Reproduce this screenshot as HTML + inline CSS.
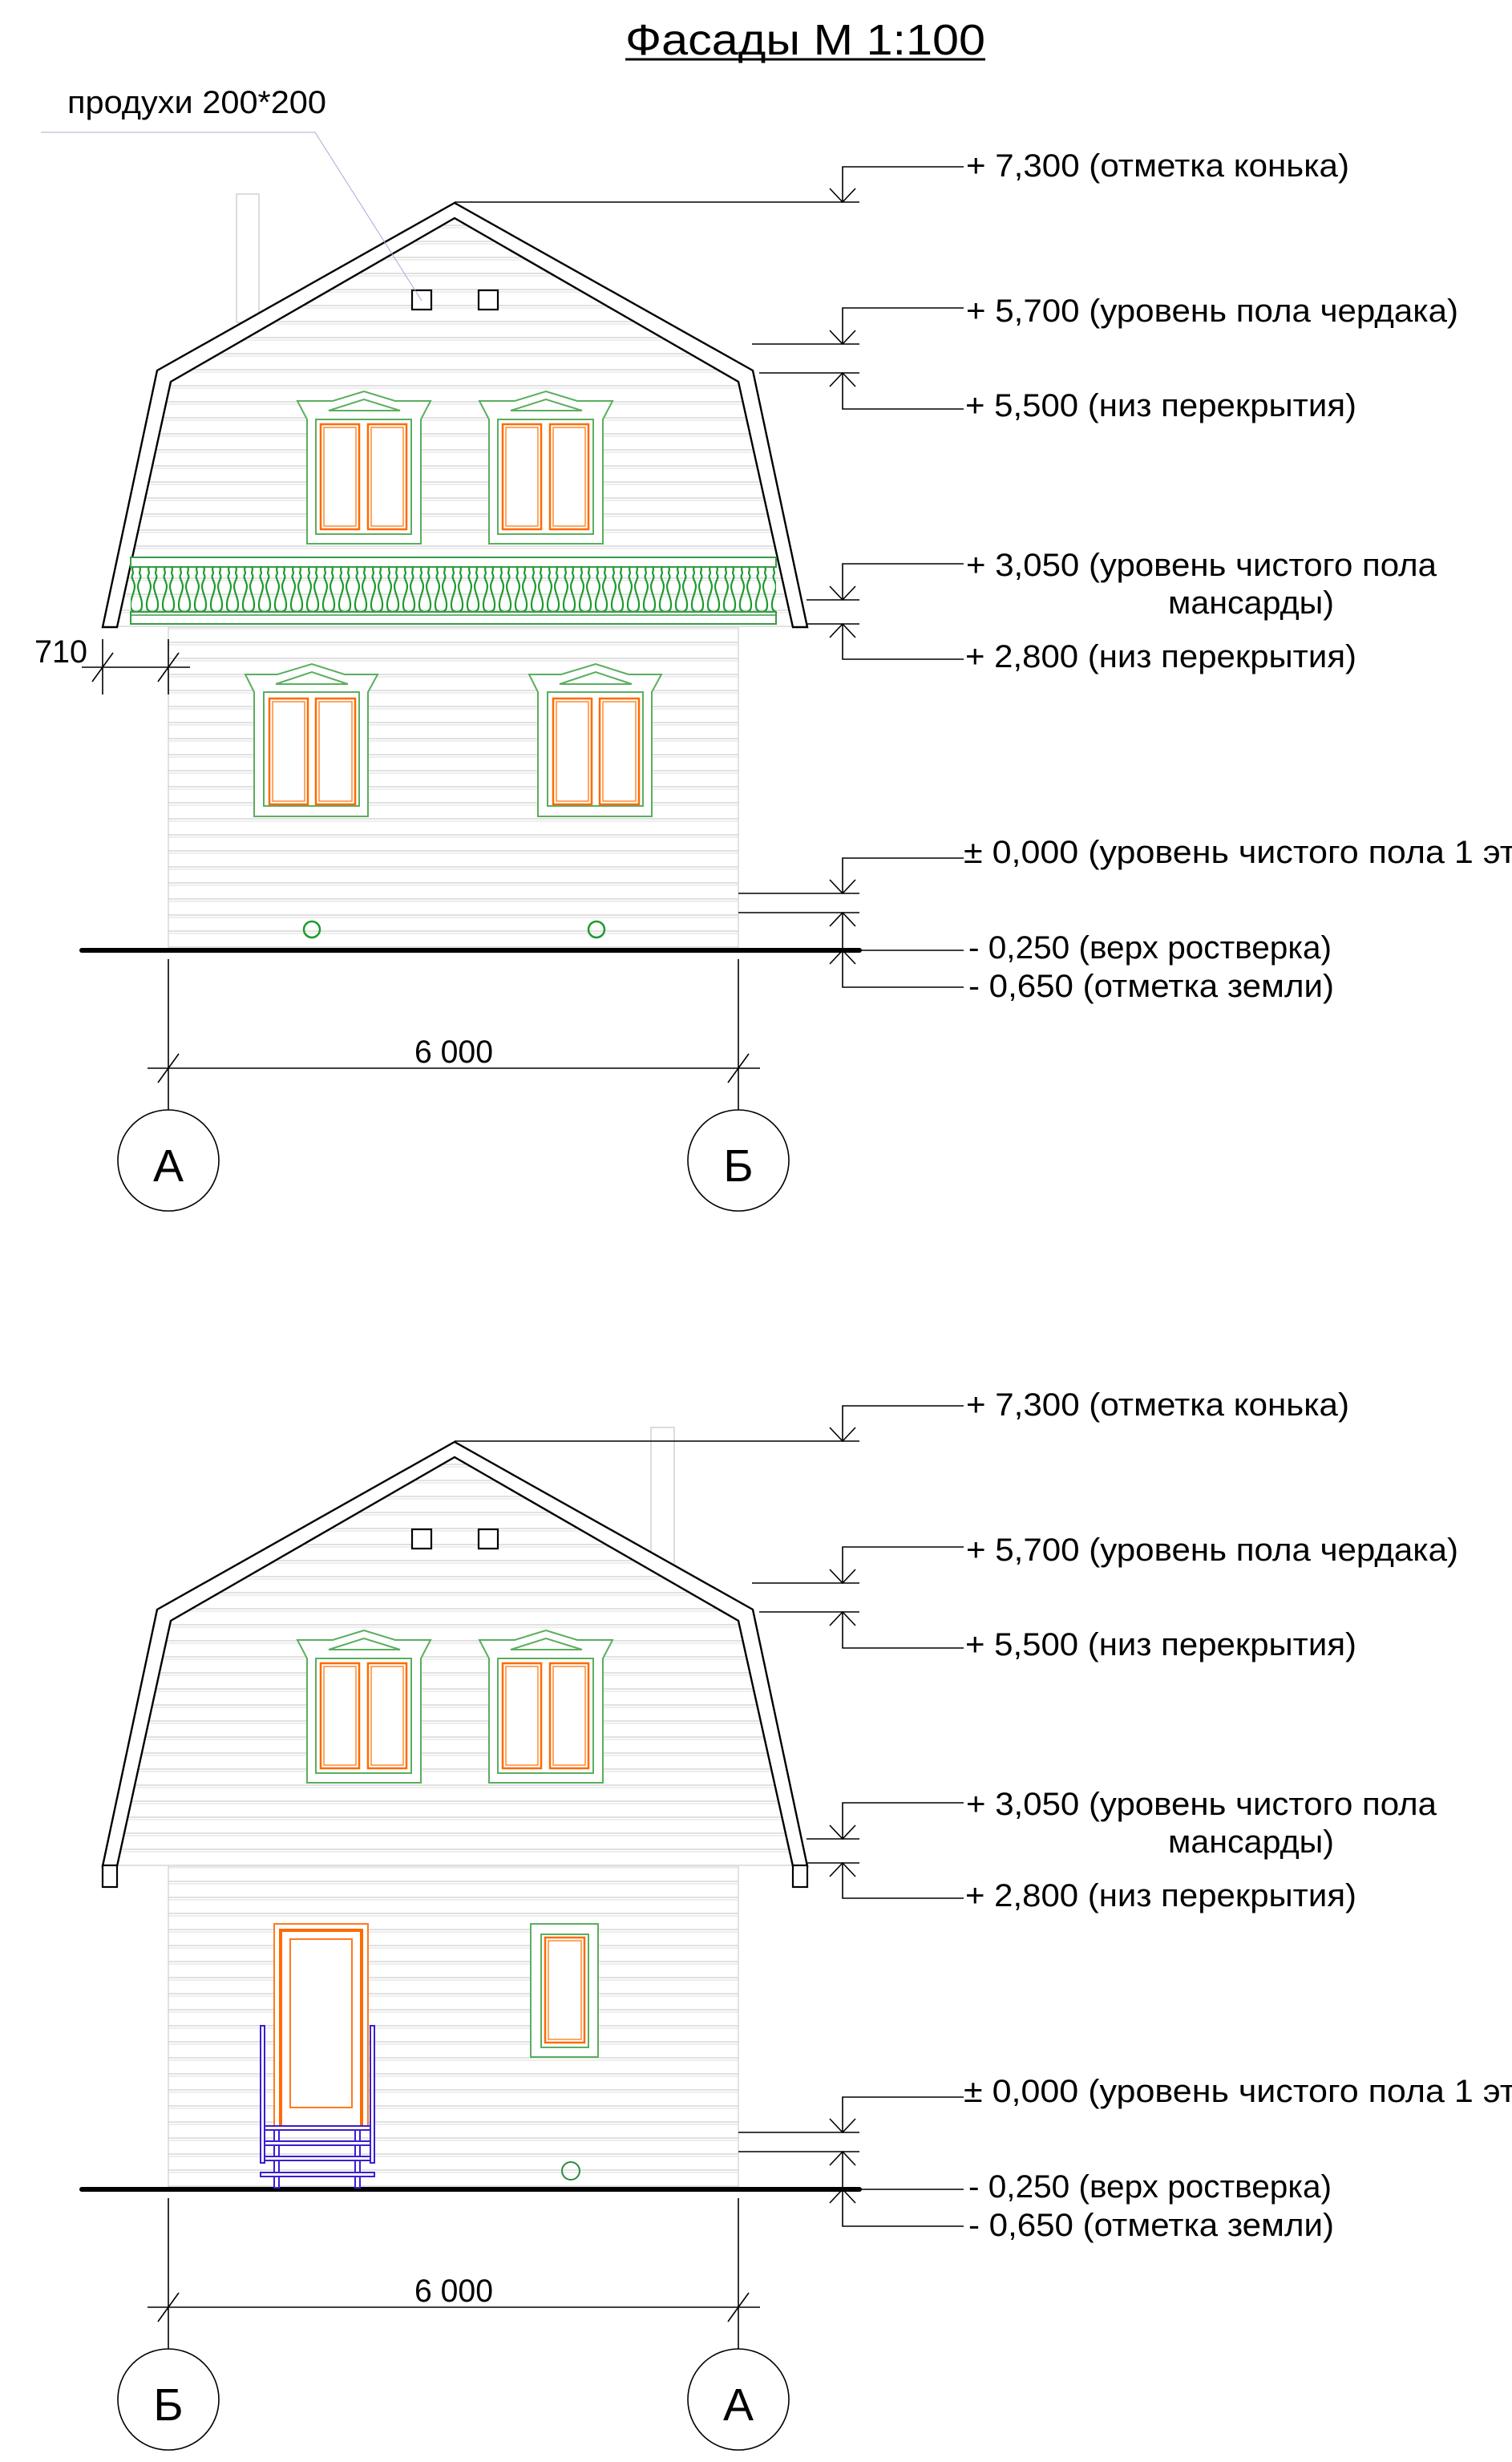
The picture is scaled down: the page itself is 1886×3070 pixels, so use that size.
<!DOCTYPE html>
<html><head><meta charset="utf-8"><style>
html,body{margin:0;padding:0;background:#fff}
svg{display:block}
text{font-family:"Liberation Sans","DejaVu Sans",sans-serif;fill:#000}
</style></head><body>
<svg width="1886" height="3070" viewBox="0 0 1886 3070" xmlns="http://www.w3.org/2000/svg">
<defs>
<pattern id="sid" patternUnits="userSpaceOnUse" width="40" height="20">
<rect width="40" height="20" fill="#fff"/>
<line x1="0" y1="1" x2="40" y2="1" stroke="#cfcfcf" stroke-width="1.2"/>
<line x1="0" y1="4" x2="40" y2="4" stroke="#dcdcdc" stroke-width="1"/>
</pattern>
<pattern id="bal" patternUnits="userSpaceOnUse" x="160" y="707" width="20" height="56">
<path d="M6,0 C3,4 8,6 5,10 C3,14 8,18 8,24 C8,32 2,40 3,48 C3,54 6,56 10,56 C14,56 17,54 17,48 C18,40 12,32 12,24 C12,18 17,14 15,10 C12,6 17,4 14,0" fill="none" stroke="#1e9a2e" stroke-width="2.2"/>
</pattern>
<g id="roof">
<polygon points="146,782 213,476 567,272 921,476 989,782" fill="url(#sid)"/>
<path d="M128,782 L196,462 L567,253 L939,462 L1007,782 L989,782 L921,476 L567,272 L213,476 L146,782 Z" fill="#fff" stroke="#000" stroke-width="2.4" stroke-linejoin="miter"/>
<rect x="514" y="362" width="24" height="24" fill="#fff" stroke="#000" stroke-width="2.2"/>
<rect x="597" y="362" width="24" height="24" fill="#fff" stroke="#000" stroke-width="2.2"/>
</g>
<g id="dorm">
<polygon points="371,500 415,500 454,488 493,500 537,500 525,523 525,678 383,678 383,523" fill="#fff" stroke="#5aae5e" stroke-width="2"/>
<polygon points="410,512 454,498 499,512" fill="none" stroke="#5aae5e" stroke-width="2"/>
<rect x="394" y="523" width="119" height="143" fill="#fff" stroke="#5aae5e" stroke-width="2"/>
<rect x="400" y="529" width="48" height="131" fill="none" stroke="#ff6a00" stroke-width="2.5"/>
<rect x="404" y="533" width="40" height="123" fill="none" stroke="#ff8a30" stroke-width="1.5"/>
<rect x="459" y="529" width="48" height="131" fill="none" stroke="#ff6a00" stroke-width="2.5"/>
<rect x="463" y="533" width="40" height="123" fill="none" stroke="#ff8a30" stroke-width="1.5"/>
</g>
<g id="gwin">
<polygon points="306,841 346,841 389,828 430,841 471,841 459,863 459,1018 317,1018 317,863" fill="#fff" stroke="#5aae5e" stroke-width="2"/>
<polygon points="344,853 389,838 434,853" fill="none" stroke="#5aae5e" stroke-width="2"/>
<rect x="329" y="863" width="119" height="142" fill="#fff" stroke="#5aae5e" stroke-width="2"/>
<rect x="336" y="871" width="48" height="132" fill="none" stroke="#ff6a00" stroke-width="2.5"/>
<rect x="340" y="875" width="40" height="124" fill="none" stroke="#ff8a30" stroke-width="1.5"/>
<rect x="394" y="871" width="49" height="132" fill="none" stroke="#ff6a00" stroke-width="2.5"/>
<rect x="398" y="875" width="41" height="124" fill="none" stroke="#ff8a30" stroke-width="1.5"/>
</g>
<g id="dims" fill="none" stroke="#000" stroke-width="1.6">
<line x1="567" y1="252" x2="1072" y2="252"/>
<polyline points="1202,208 1051,208 1051,252"/>
<polyline points="1035,235 1051,252 1067,235"/>
<line x1="938" y1="429" x2="1072" y2="429"/>
<polyline points="1202,384 1051,384 1051,429"/>
<polyline points="1035,412 1051,429 1067,412"/>
<line x1="947" y1="465" x2="1072" y2="465"/>
<polyline points="1202,510 1051,510 1051,465"/>
<polyline points="1035,482 1051,465 1067,482"/>
<line x1="1006" y1="748" x2="1072" y2="748"/>
<polyline points="1202,703 1051,703 1051,748"/>
<polyline points="1035,731 1051,748 1067,731"/>
<line x1="1007" y1="778" x2="1072" y2="778"/>
<polyline points="1202,822 1051,822 1051,778"/>
<polyline points="1035,795 1051,778 1067,795"/>
<line x1="921" y1="1114" x2="1072" y2="1114"/>
<polyline points="1202,1070 1051,1070 1051,1114"/>
<polyline points="1035,1097 1051,1114 1067,1097"/>
<line x1="921" y1="1138" x2="1072" y2="1138"/>
<polyline points="1202,1231 1051,1231 1051,1138"/>
<polyline points="1035,1155 1051,1138 1067,1155"/>
<polyline points="1035,1202 1051,1185 1067,1202"/>
<line x1="1051" y1="1185" x2="1202" y2="1185"/>
<line x1="210" y1="1196" x2="210" y2="1384"/>
<line x1="921" y1="1196" x2="921" y2="1384"/>
<line x1="184" y1="1332" x2="948" y2="1332"/>
<line x1="197" y1="1350" x2="223" y2="1314"/>
<line x1="908" y1="1350" x2="934" y2="1314"/>
<circle cx="210" cy="1447" r="63"/>
<circle cx="921" cy="1447" r="63"/>
<line x1="102" y1="1185" x2="1072" y2="1185" stroke-width="6" stroke-linecap="round"/>
</g>
</defs>

<text x="780" y="68" font-size="54" textLength="449" lengthAdjust="spacingAndGlyphs">Фасады М 1:100</text>
<line x1="780" y1="74" x2="1229" y2="74" stroke="#000" stroke-width="3"/>

<rect x="295" y="242" width="28" height="160" fill="#fff" stroke="#d0d0d0" stroke-width="1.5"/>
<rect x="210" y="782" width="711" height="403" fill="url(#sid)" stroke="#cfcfcf" stroke-width="1.2"/>
<use href="#roof"/>
<use href="#dorm"/>
<use href="#dorm" transform="translate(227,0)"/>
<rect x="163" y="695" width="805" height="12" fill="#fff" stroke="#3a9a45" stroke-width="2"/>
<rect x="163" y="707" width="805" height="56" fill="url(#bal)"/>
<rect x="163" y="763" width="805" height="15" fill="#fff" stroke="#3a9a45" stroke-width="2"/>
<line x1="163" y1="767" x2="968" y2="767" stroke="#3a9a45" stroke-width="1.5"/>
<use href="#gwin"/>
<use href="#gwin" transform="translate(354,0)"/>
<circle cx="389" cy="1159" r="10" fill="none" stroke="#1e9a2e" stroke-width="2.5"/>
<circle cx="744" cy="1159" r="10" fill="none" stroke="#1e9a2e" stroke-width="2.5"/>
<polyline points="51,165 393,165 526,375" fill="none" stroke="#a8a8d8" stroke-width="1"/>
<text x="84" y="141" font-size="40" textLength="323" lengthAdjust="spacingAndGlyphs">продухи 200*200</text>
<g stroke="#000" stroke-width="1.6" fill="none">
<line x1="128" y1="797" x2="128" y2="866"/>
<line x1="210" y1="797" x2="210" y2="866"/>
<line x1="102" y1="832" x2="237" y2="832"/>
<line x1="115" y1="850" x2="141" y2="814"/>
<line x1="197" y1="850" x2="223" y2="814"/>
</g>
<text x="43" y="826" font-size="40" textLength="66" lengthAdjust="spacingAndGlyphs">710</text>
<use href="#dims"/>
<g font-size="40">
<text x="1205" y="220" textLength="478" lengthAdjust="spacingAndGlyphs">+ 7,300 (отметка конька)</text>
<text x="1205" y="401" textLength="614" lengthAdjust="spacingAndGlyphs">+ 5,700 (уровень пола чердака)</text>
<text x="1204" y="519" textLength="488" lengthAdjust="spacingAndGlyphs">+ 5,500 (низ перекрытия)</text>
<text x="1205" y="718" textLength="587" lengthAdjust="spacingAndGlyphs">+ 3,050 (уровень чистого пола</text>
<text x="1457" y="765" textLength="207" lengthAdjust="spacingAndGlyphs">мансарды)</text>
<text x="1204" y="832" textLength="488" lengthAdjust="spacingAndGlyphs">+ 2,800 (низ перекрытия)</text>
<text x="1202" y="1076" textLength="710" lengthAdjust="spacingAndGlyphs">± 0,000 (уровень чистого пола 1 эт.)</text>
<text x="1208" y="1195" textLength="453" lengthAdjust="spacingAndGlyphs">- 0,250 (верх ростверка)</text>
<text x="1208" y="1243" textLength="456" lengthAdjust="spacingAndGlyphs">- 0,650 (отметка земли)</text>
<text x="517" y="1325" textLength="98" lengthAdjust="spacingAndGlyphs">6 000</text>
</g>
<text x="210" y="1473" font-size="57" text-anchor="middle">А</text>
<text x="921" y="1473" font-size="57" text-anchor="middle">Б</text>

<g transform="translate(0,1545)">
<rect x="812" y="235" width="29" height="200" fill="#fff" stroke="#d0d0d0" stroke-width="1.5"/>
<rect x="210" y="782" width="711" height="403" fill="url(#sid)" stroke="#cfcfcf" stroke-width="1.2"/>
<use href="#roof"/>
<rect x="128" y="781" width="18" height="27" fill="#fff" stroke="#000" stroke-width="2.2"/>
<rect x="989" y="781" width="18" height="27" fill="#fff" stroke="#000" stroke-width="2.2"/>
<use href="#dorm"/>
<use href="#dorm" transform="translate(227,0)"/>
<use href="#dims"/>
</g>
<rect x="342" y="2399" width="117" height="255" fill="#fff" stroke="#ff7a20" stroke-width="2"/>
<path d="M350,2652 V2407 H451 V2652" fill="none" stroke="#ff6a00" stroke-width="4"/>
<rect x="362" y="2418" width="77" height="210" fill="none" stroke="#ff7a20" stroke-width="2"/>
<g fill="#fff" stroke="#3a1fd0" stroke-width="2">
<rect x="342" y="2651" width="6" height="77"/>
<rect x="443" y="2651" width="6" height="77"/>
<rect x="325" y="2526" width="5" height="171"/>
<rect x="462" y="2526" width="5" height="171"/>
<rect x="330" y="2651" width="132" height="5"/>
<rect x="330" y="2670" width="132" height="5"/>
<rect x="330" y="2689" width="132" height="5"/>
<rect x="325" y="2709" width="142" height="5"/>
</g>
<rect x="662" y="2399" width="84" height="166" fill="#fff" stroke="#5aae5e" stroke-width="2"/>
<rect x="675" y="2412" width="59" height="141" fill="none" stroke="#5aae5e" stroke-width="2"/>
<rect x="680" y="2416" width="49" height="131" fill="none" stroke="#ff6a00" stroke-width="2.5"/>
<rect x="684" y="2420" width="41" height="123" fill="none" stroke="#ff8a30" stroke-width="1.5"/>
<circle cx="712" cy="2707" r="11" fill="none" stroke="#2e8a3e" stroke-width="2"/>
<g font-size="40">
<text x="1205" y="1765" textLength="478" lengthAdjust="spacingAndGlyphs">+ 7,300 (отметка конька)</text>
<text x="1205" y="1946" textLength="614" lengthAdjust="spacingAndGlyphs">+ 5,700 (уровень пола чердака)</text>
<text x="1204" y="2064" textLength="488" lengthAdjust="spacingAndGlyphs">+ 5,500 (низ перекрытия)</text>
<text x="1205" y="2263" textLength="587" lengthAdjust="spacingAndGlyphs">+ 3,050 (уровень чистого пола</text>
<text x="1457" y="2310" textLength="207" lengthAdjust="spacingAndGlyphs">мансарды)</text>
<text x="1204" y="2377" textLength="488" lengthAdjust="spacingAndGlyphs">+ 2,800 (низ перекрытия)</text>
<text x="1202" y="2621" textLength="710" lengthAdjust="spacingAndGlyphs">± 0,000 (уровень чистого пола 1 эт.)</text>
<text x="1208" y="2740" textLength="453" lengthAdjust="spacingAndGlyphs">- 0,250 (верх ростверка)</text>
<text x="1208" y="2788" textLength="456" lengthAdjust="spacingAndGlyphs">- 0,650 (отметка земли)</text>
<text x="517" y="2870" textLength="98" lengthAdjust="spacingAndGlyphs">6 000</text>
</g>
<text x="210" y="3018" font-size="57" text-anchor="middle">Б</text>
<text x="921" y="3018" font-size="57" text-anchor="middle">А</text>
</svg>
</body></html>
